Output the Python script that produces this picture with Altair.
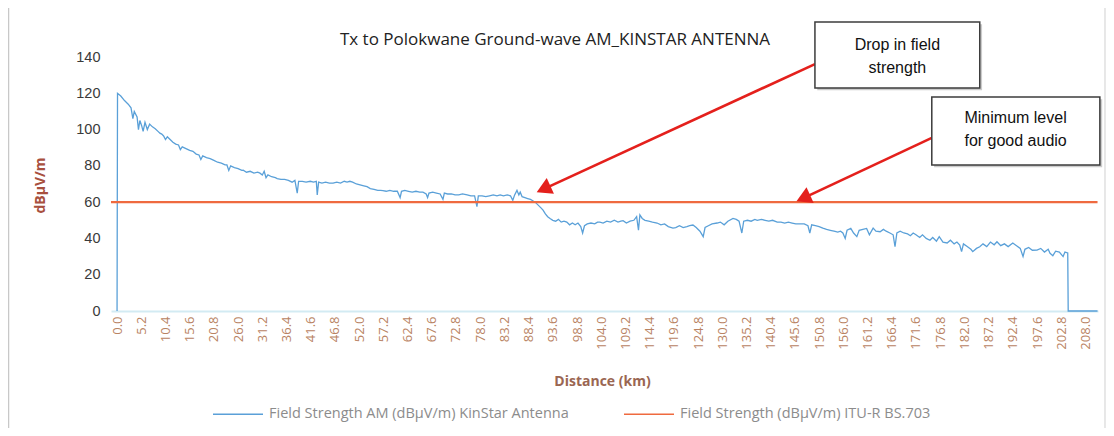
import altair as alt
import pandas as pd

# ---------------- text ----------------
title_text = "Tx to Polokwane Ground-wave AM_KINSTAR ANTENNA"
series_am = "Field Strength AM (dBµV/m) KinStar Antenna"
series_itu = "Field Strength (dBµV/m) ITU-R BS.703"
x_title = "Distance (km)"
y_title = "dBµV/m"

# ---------------- data ----------------
distance_km = [
    0.0, 0.1, 0.8, 1.6, 2.4, 3.0, 3.4, 3.7, 4.3, 4.6, 4.9, 5.3, 5.6, 6.0, 6.5, 7.0, 7.6, 8.2, 8.8, 9.2,
    9.6, 10.0, 10.4, 10.8, 11.4, 12.0, 12.6, 13.2, 13.6, 14.0, 14.8, 15.6, 16.3, 17.0, 17.6, 18.0, 18.4, 19.2, 20.0, 20.8,
    21.6, 22.4, 23.2, 23.6, 24.0, 24.4, 25.2, 26.0, 26.8, 27.1, 27.8, 28.6, 29.4, 30.2, 30.7, 31.2, 31.6, 32.0, 32.4, 33.2,
    34.0, 34.4, 35.2, 36.0, 36.8, 37.6, 38.2, 38.7, 39.0, 39.8, 40.6, 41.5, 42.2, 42.8, 43.0, 43.3, 44.0, 44.8, 45.6, 46.4,
    47.2, 48.0, 48.8, 49.4, 50.0, 50.6, 51.4, 52.2, 53.0, 53.7, 54.4, 55.2, 56.0, 56.6, 57.1, 57.8, 58.6, 59.4, 60.2, 60.8,
    61.1, 61.8, 62.6, 63.4, 64.2, 65.0, 65.7, 66.4, 66.7, 67.0, 67.8, 68.6, 69.4, 70.0, 70.3, 71.0, 71.8, 72.6, 73.4, 74.2,
    75.2, 76.0, 76.8, 77.3, 77.6, 78.4, 79.2, 80.0, 80.8, 81.6, 82.3, 83.0, 83.8, 84.5, 85.0, 85.4, 85.9, 86.3, 86.6, 87.0,
    87.6, 88.2, 88.8, 89.3, 89.8, 90.4, 91.0, 91.5, 92.0, 92.5, 93.0, 93.6, 94.2, 94.8, 95.4, 96.0, 96.6, 97.2, 97.8, 98.4,
    99.0, 99.6, 100.0, 100.4, 101.0, 101.8, 102.6, 103.2, 103.7, 104.4, 105.2, 106.0, 106.8, 107.6, 108.2, 108.7, 109.4, 110.2, 111.0, 111.6,
    112.0, 112.3, 112.8, 113.4, 114.2, 115.0, 116.0, 116.8, 117.6, 118.4, 119.4, 120.0, 120.8, 121.6, 122.4, 123.0, 123.7, 124.4, 125.2, 125.9,
    126.3, 127.0, 127.8, 128.9, 129.6, 130.4, 131.2, 132.3, 133.0, 133.6, 134.2, 134.6, 135.4, 136.2, 137.0, 137.5, 138.4, 139.2, 140.0, 140.8,
    141.8, 142.6, 143.4, 144.2, 145.0, 145.8, 146.7, 147.6, 148.4, 148.8, 149.2, 150.0, 150.8, 151.6, 152.4, 153.2, 154.0, 154.8, 155.4, 155.9,
    156.4, 156.8, 157.6, 158.2, 158.9, 159.4, 160.2, 161.0, 161.6, 162.4, 163.0, 163.9, 164.6, 165.2, 166.0, 166.7, 167.1, 167.5, 168.2, 169.0,
    169.8, 170.4, 171.0, 171.6, 172.4, 173.0, 173.8, 174.6, 175.2, 176.0, 176.6, 177.4, 178.3, 179.0, 179.8, 180.4, 181.0, 181.4, 181.8, 182.6,
    183.4, 183.8, 184.6, 185.3, 186.0, 186.8, 187.6, 188.4, 189.0, 189.8, 190.6, 191.4, 192.4, 193.2, 194.0, 194.6, 195.0, 195.8, 196.6, 197.6,
    198.4, 199.2, 200.0, 200.4, 201.0, 201.6, 202.4, 203.2, 203.6, 204.2, 204.3, 210.6,
]
field_strength = [
    0, 120, 118.5, 116, 114, 112, 106, 110, 107, 100, 105, 102, 99, 104, 100, 103, 101.5, 100.5, 99, 98,
    97.5, 96.5, 94.5, 96, 94.5, 93, 92, 91.5, 89, 90.5, 89.5, 88.5, 88, 86.5, 86, 83.5, 85.5, 84.5, 84, 83,
    82, 81.5, 80.5, 80.5, 77.5, 80, 79, 78.5, 77.5, 77.6, 76.5, 77, 76, 76.5, 76, 75, 77, 73.5, 75, 74,
    73.5, 73, 72.5, 72.5, 72, 71, 72, 65, 71.5, 71.5, 71, 71.5, 71, 71.5, 64, 71, 70.5, 71, 70.5, 70.5,
    71, 70.5, 71.5, 71, 71.5, 71, 70, 69.5, 69, 68.5, 67.5, 67, 66.5, 66.5, 66.3, 66, 66.5, 66, 66, 62.5,
    66, 66.5, 66, 65.5, 66, 65.5, 65.5, 64.5, 62.5, 65, 65.5, 65, 64.5, 61.5, 65, 64.5, 64.5, 64, 64, 64.5,
    64, 63.5, 63.5, 57.5, 63.5, 63.5, 63, 63.5, 64, 63.5, 64, 63.5, 64, 63.5, 61, 64, 66.5, 64, 65.5, 63,
    62.5, 62, 61.5, 60.8, 60, 58.5, 57, 55.6, 53.5, 52, 51, 50, 49.5, 50.5, 49, 49.5, 49, 47.5, 48.5, 47.5,
    48.5, 46.5, 43, 47, 48, 48.5, 48, 49, 49, 48.5, 49.5, 49, 50, 49, 49.5, 49.8, 48.5, 49.5, 50, 52,
    44.6, 53, 51, 50, 49.5, 49, 48.5, 47.5, 48, 46.5, 45.7, 46, 47, 46, 46.5, 47, 47.4, 46, 44, 41,
    46, 47, 48, 48.5, 49, 47.5, 49.5, 51, 50.5, 49.5, 43, 49.5, 50, 49.5, 50.5, 50, 50.5, 50, 49.5, 50,
    49, 49, 48.5, 49, 48.5, 48, 48, 48, 47, 43, 47.5, 47, 46.5, 45.7, 45, 44.5, 44, 43.5, 44, 43,
    40, 44.5, 45.5, 43, 41, 44.5, 45, 45.5, 42, 45.7, 44, 43.7, 45, 44, 43, 42, 35.4, 43, 44, 43,
    42.5, 41.5, 43, 42, 40.5, 42, 40, 39, 40.5, 38.5, 41, 38, 37.5, 39, 37, 38, 36.4, 32.7, 37, 35.5,
    34, 32.7, 34.5, 35.4, 37, 35.5, 38, 36.5, 38.2, 36, 37, 35.5, 37.5, 36, 34.5, 30, 34, 35, 33.5, 33.6,
    34.5, 32.5, 34, 31.8, 30.5, 33, 32.5, 30, 32.5, 32, 0, 0,
]
itu_distance_km = [-1.3, 210.6]
itu_level = [60, 60]

x_tick_labels = [0.0, 5.2, 10.4, 15.6, 20.8, 26.0, 31.2, 36.4, 41.6, 46.8, 52.0, 57.2, 62.4, 67.6,
                 72.8, 78.0, 83.2, 88.4, 93.6, 98.8, 104.0, 109.2, 114.4, 119.6, 124.8, 130.0, 135.2,
                 140.4, 145.6, 150.8, 156.0, 161.2, 166.4, 171.6, 176.8, 182.0, 187.2, 192.4, 197.6,
                 202.8, 208.0]
y_tick_labels = [0, 20, 40, 60, 80, 100, 120, 140]

# annotation callouts (anchored in data coordinates)
box_texts = [["Drop in field", "strength"], ["Minimum level", "for good audio"]]
box_x = [149.9, 175.0]
box_x2 = [185.3, 211.1]
box_y = [122.9, 80.5]
box_y2 = [159.3, 117.9]
text_x = [167.6, 193.0]
text_y1 = [146.6, 106.4]
text_y2 = [133.9, 93.7]
arrow_x = [149.9, 175.0]
arrow_y = [136.1, 95.4]
arrow_x2 = [91.6, 147.4]
arrow_y2 = [67.2, 62.2]

# ---------------- tables ----------------
am_df = pd.DataFrame({"distance": distance_km, "value": field_strength,
                      "series": series_am, "idx": range(len(distance_km))})
itu_df = pd.DataFrame({"distance": itu_distance_km, "value": itu_level,
                       "series": series_itu, "idx": range(len(itu_distance_km))})
box_df = pd.DataFrame({"distance": box_x, "x2": box_x2, "value": box_y, "y2": box_y2})
shadow_df = pd.DataFrame({"distance": [v + 0.5 for v in box_x], "x2": [v + 0.5 for v in box_x2],
                          "value": [v - 1.2 for v in box_y], "y2": [v - 1.2 for v in box_y2]})
text_df = pd.DataFrame({
    "distance": text_x + text_x,
    "value": text_y1 + text_y2,
    "t": [b[0] for b in box_texts] + [b[1] for b in box_texts],
})
arrow_df = pd.DataFrame({"distance": arrow_x, "value": arrow_y, "x2": arrow_x2, "y2": arrow_y2})
head_df = pd.DataFrame({"distance": arrow_x2, "value": arrow_y2})

# ---------------- scales / axes ----------------
RED = "#ef6a3f"
BLUE = "#5aa0d8"
ARROW = "#e4201c"

xs = alt.Scale(domain=[-1.3, 210.7], nice=False, zero=False)
ys = alt.Scale(domain=[0, 140], nice=False, zero=True)
color_scale = alt.Scale(domain=[series_am, series_itu], range=[BLUE, RED])

x_axis = alt.Axis(
    title=x_title, values=x_tick_labels, format=".1f", labelAngle=-90,
    labelFont="Open Sans", labelFontSize=13, labelColor="#b98363", labelPadding=5,
    labelFlush=False, labelOverlap=False, ticks=False, grid=False,
    domain=True, domainColor="#d3ebf3", domainWidth=2,
    titleFont="Open Sans", titleFontSize=14, titleFontWeight="bold", titleColor="#9a6652",
    titleX=491, titleY=70, titleBaseline="middle", titleAlign="center",
)
y_axis = alt.Axis(
    title=y_title, values=y_tick_labels, labelFont="Liberation Sans", labelFontSize=14.5,
    labelColor="#3a3a3a", labelPadding=11, ticks=False, grid=False, domain=False,
    titleFont="Open Sans", titleFontSize=14, titleFontWeight="bold", titleColor="#a8503e",
    titleX=-71, titleY=128, titleAngle=-90, titleBaseline="middle", titleAlign="center",
)
legend = alt.Legend(
    title=None, orient="none", legendX=101, legendY=331, direction="horizontal",
    symbolType="stroke", symbolSize=2500, symbolStrokeWidth=1.6,
    labelFont="Open Sans", labelFontSize=14.5, labelColor="#8c8c8c", labelOffset=5,
    labelLimit=0, columnPadding=51,
)

X = alt.X("distance:Q", scale=xs, axis=x_axis)
Y = alt.Y("value:Q", scale=ys, axis=y_axis)

one = pd.DataFrame({"k": [0]})
frame_left = alt.Chart(one).mark_rule(color="#c8c8c8", strokeWidth=1.5).encode(
    x=alt.value(-102.5), y=alt.value(-57), y2=alt.value(371))
frame_right = alt.Chart(one).mark_rule(color="#d8d8d8", strokeWidth=1.2).encode(
    x=alt.value(994), y=alt.value(-57), y2=alt.value(371))
title = alt.Chart(one).mark_text(
    text=title_text, font="Open Sans", fontSize=17, color="#222222",
    align="center", baseline="middle",
).encode(x=alt.value(444), y=alt.value(-17))

am_line = alt.Chart(am_df).mark_line(strokeWidth=1.3, clip=False).encode(
    x=X, y=Y,
    color=alt.Color("series:N", scale=color_scale, legend=legend),
    order=alt.Order("idx:Q"),
)
itu_line = alt.Chart(itu_df).mark_line(strokeWidth=2.4, clip=False).encode(
    x=X, y=Y,
    color=alt.Color("series:N", scale=color_scale, legend=legend),
    order=alt.Order("idx:Q"),
)

shadow = alt.Chart(shadow_df).mark_rect(fill="#a8a8a8", opacity=0.6).encode(
    x=X, x2="x2:Q", y=Y, y2="y2:Q",
)
boxes = alt.Chart(box_df).mark_rect(fill="white", stroke="#3c3c3c", strokeWidth=1.5).encode(
    x=X, x2="x2:Q", y=Y, y2="y2:Q",
)
texts = alt.Chart(text_df).mark_text(
    font="Liberation Sans", fontSize=16, color="#111111", align="center", baseline="middle"
).encode(x=X, y=Y, text="t:N")
arrows = alt.Chart(arrow_df).mark_rule(color=ARROW, strokeWidth=2.6).encode(
    x=X, x2="x2:Q", y=Y, y2="y2:Q",
)
heads = alt.Chart(head_df).mark_point(
    shape="triangle-up", filled=True, color=ARROW, opacity=1, size=300, angle=245.5
).encode(x=X, y=Y)

chart = alt.layer(
    frame_left, frame_right, title, am_line, itu_line, arrows, heads, shadow, boxes, texts
).properties(
    width=987,
    height=254,
    padding={"left": 103, "top": 49, "right": 8, "bottom": 117},
    autosize=alt.AutoSizeParams(type="none"),
    background="white",
).configure_view(stroke=None)

chart.save("out.html", embed_options={"renderer": "svg", "actions": False})
